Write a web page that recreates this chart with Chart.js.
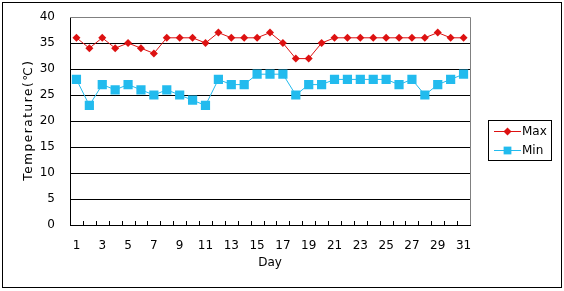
<!DOCTYPE html>
<html>
<head>
<meta charset="utf-8">
<script src="https://cdn.jsdelivr.net/npm/chart.js@4"></script>
<style>
body { margin: 0; background: #fff; }
canvas { display: block; }
</style>
</head>
<body>
<canvas id="tempChart" width="564" height="291"></canvas>
<script>
const days = Array.from({length: 31}, (_, i) => String(i + 1));
const maxTemps = [36, 34, 36, 34, 35, 34, 33, 36, 36, 36, 35, 37, 36, 36, 36, 37, 35, 32, 32, 35, 36, 36, 36, 36, 36, 36, 36, 36, 37, 36, 36];
const minTemps = [28, 23, 27, 26, 27, 26, 25, 26, 25, 24, 23, 28, 27, 27, 29, 29, 29, 25, 27, 27, 28, 28, 28, 28, 28, 27, 28, 25, 27, 28, 29];
const yTitle = 'Temperature(℃)';

const redColor = '#dd1111';
const cyanColor = '#22bbee';
const fontFamily = '"DejaVu Sans", Verdana, sans-serif';

// frame, plot border, inner x ticks, y title and legend box
const framePlugin = {
    id: 'frame',
    beforeDraw(chart) {
        const c = chart.ctx;
        c.save();
        c.fillStyle = '#fff';
        c.fillRect(0, 0, chart.width, chart.height);
        c.restore();
    },
    afterDraw(chart) {
        const c = chart.ctx;
        const a = chart.chartArea;
        c.save();
        c.lineWidth = 1;
        c.strokeStyle = '#000';
        c.strokeRect(2.5, 2.5, 559, 285);

        // category tick marks pointing into the plot
        const step = (a.right - a.left) / days.length;
        c.beginPath();
        for (let i = 1; i < days.length; i++) {
            const x = Math.round(a.left + i * step) + 0.5;
            c.moveTo(x, a.bottom);
            c.lineTo(x, a.bottom - 4);
        }
        c.stroke();

        c.strokeStyle = '#808080';
        c.beginPath();
        c.moveTo(a.left, a.top + 0.5);
        c.lineTo(a.right + 0.5, a.top + 0.5);
        c.lineTo(a.right + 0.5, a.bottom);
        c.stroke();

        // y title, spaced out like the original
        c.save();
        c.translate(29, 120);
        c.rotate(-Math.PI / 2);
        c.font = '12px ' + fontFamily;
        c.letterSpacing = '1.6px';
        c.fillStyle = '#000';
        c.textAlign = 'center';
        c.textBaseline = 'middle';
        c.fillText(yTitle, 0, 0);
        c.restore();

        // legend
        c.strokeStyle = '#000';
        c.strokeRect(488.5, 120.5, 63, 40);
        const items = [
            {label: 'Max', color: redColor, style: 'rectRot', r: 4, y: 131},
            {label: 'Min', color: cyanColor, style: 'rect', r: 5.5, y: 150}
        ];
        c.font = '12px ' + fontFamily;
        c.textBaseline = 'middle';
        items.forEach(it => {
            c.strokeStyle = it.color;
            c.beginPath();
            c.moveTo(494, it.y + 0.5);
            c.lineTo(521, it.y + 0.5);
            c.stroke();
            c.fillStyle = it.color;
            Chart.helpers.drawPoint(c, {pointStyle: it.style, radius: it.r, borderWidth: 0}, 507.5, it.y + 0.5);
            c.fillStyle = '#000';
            c.fillText(it.label, 522, it.y + 1);
        });
        c.restore();
    }
};

const ctx = document.getElementById('tempChart').getContext('2d');
const tempChart = new Chart(ctx, {
    type: 'line',
    data: {
        labels: days,
        datasets: [{
            label: 'Max',
            data: maxTemps,
            borderColor: redColor,
            backgroundColor: redColor,
            borderWidth: 1,
            pointStyle: 'rectRot',
            pointRadius: 4,
            pointBorderWidth: 0,
            tension: 0
        }, {
            label: 'Min',
            data: minTemps,
            borderColor: cyanColor,
            backgroundColor: cyanColor,
            borderWidth: 1,
            pointStyle: 'rect',
            pointRadius: 6.5,
            pointBorderWidth: 0,
            tension: 0
        }]
    },
    options: {
        responsive: false,
        animation: false,
        layout: { padding: { left: 0, top: 17, right: 94, bottom: 0 } },
        plugins: {
            legend: { display: false },
            tooltip: { enabled: false }
        },
        scales: {
            x: {
                offset: true,
                afterFit: s => { s.height = 66; },
                grid: { display: false },
                border: { display: true, color: '#000', width: 1 },
                ticks: {
                    autoSkip: false,
                    maxRotation: 0,
                    padding: 6,
                    color: '#000',
                    font: { family: fontFamily, size: 12 },
                    callback: (v, i) => (i % 2 === 0 ? days[i] : '')
                },
                title: {
                    display: true,
                    text: 'Day',
                    color: '#000',
                    font: { family: fontFamily, size: 12 },
                    padding: { top: 0, bottom: 21 }
                }
            },
            y: {
                min: 0,
                max: 40,
                afterFit: s => { s.width = 70; },
                grid: {
                    drawTicks: true,
                    tickLength: 15,
                    tickColor: 'rgba(0,0,0,0)',
                    color: c => (c.tick.value === 40 ? '#808080' : '#000')
                },
                border: { color: '#000', width: 1 },
                ticks: {
                    stepSize: 5,
                    padding: 0,
                    color: '#000',
                    font: { family: fontFamily, size: 12 }
                }
            }
        }
    },
    plugins: [framePlugin]
});
</script>
</body>
</html>
